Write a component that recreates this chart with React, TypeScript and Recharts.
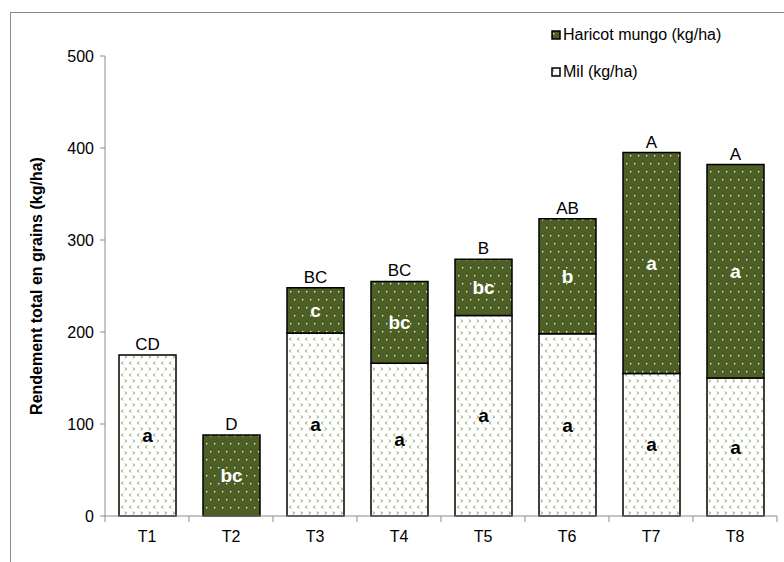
import React from "react";
import { BarChart, Bar, XAxis, YAxis, LabelList } from "recharts";

const treatments = ["T1", "T2", "T3", "T4", "T5", "T6", "T7", "T8"];
const milYield = [175, 0, 199, 166, 218, 198, 155, 150];
const haricotYield = [0, 88, 49, 89, 61, 125, 240, 232];
const groupLetters = ["CD", "D", "BC", "BC", "B", "AB", "A", "A"];
const milLetters = ["a", "", "a", "a", "a", "a", "a", "a"];
const haricotLetters = ["", "bc", "c", "bc", "bc", "b", "a", "a"];
const yTicks = [0, 100, 200, 300, 400, 500];

const data = treatments.map((t, i) => ({
  name: t,
  mil: milYield[i],
  haricot: haricotYield[i],
  total: milYield[i] + haricotYield[i],
  milLabel: milLetters[i],
  haricotLabel: haricotLetters[i],
  group: groupLetters[i],
}));

const FONT = "'Liberation Sans', Arial, sans-serif";
const GREEN = "#4e5f26";
const BAR_SIZE = 57;

function Patterns() {
  return (
    <svg width={0} height={0} style={{ position: "absolute" }}>
      <defs>
        <pattern id="milPat" width={8} height={12} patternUnits="userSpaceOnUse">
          <rect width={8} height={12} fill="#fff" />
          <path d="M3 1.5 L1.5 3 L3 4.5" stroke="#6f8c3f" strokeWidth={1} fill="none" />
          <path d="M5 7.5 L6.5 9 L5 10.5" stroke="#6f8c3f" strokeWidth={1} fill="none" />
        </pattern>
        <pattern id="haricotPat" width={8} height={16} patternUnits="userSpaceOnUse">
          <rect width={8} height={16} fill={GREEN} />
          <rect x={2} y={3} width={1.4} height={1.4} fill="#e8ecdc" />
          <rect x={6} y={11} width={1.4} height={1.4} fill="#e8ecdc" />
        </pattern>
      </defs>
    </svg>
  );
}

const STEP = (777 - 105) / treatments.length;

function XTick(props: any) {
  const { x, y, payload, index } = props;
  const left = x - STEP / 2;
  const right = x + STEP / 2;
  return (
    <g>
      <line x1={left} y1={y} x2={left} y2={y + 6} stroke="#8c8c8c" />
      {index === treatments.length - 1 && <line x1={right} y1={y} x2={right} y2={y + 6} stroke="#8c8c8c" />}
      <text x={x} y={y + 26} textAnchor="middle" style={{ fontSize: 16 }} fill="#000" fontFamily={FONT}>
        {payload.value}
      </text>
    </g>
  );
}

function LegendBox() {
  const items = [
    { label: "Haricot mungo (kg/ha)", fill: "url(#haricotPat)" },
    { label: "Mil (kg/ha)", fill: "url(#milPat)" },
  ];
  return (
    <div style={{ position: "absolute", left: 551, top: 16, fontFamily: FONT, fontSize: 16, color: "#000" }}>
      {items.map((it) => (
        <div key={it.label} style={{ display: "flex", alignItems: "center", height: 37 }}>
          <svg width={10} height={10} style={{ marginRight: 2 }}>
            <rect x={1} y={1} width={8} height={8} fill={it.fill} stroke="#000" strokeWidth={1.5} />
          </svg>
          <span>{it.label}</span>
        </div>
      ))}
    </div>
  );
}

export default function App() {
  return (
    <div style={{ position: "fixed", left: 0, top: 0, width: 784, height: 562, background: "#fff", fontFamily: FONT }}>
      <Patterns />
      <div style={{ position: "absolute", left: 10, top: 12, right: -2, bottom: -2, borderLeft: "1.5px solid #8c8c8c", borderTop: "1.5px solid #8c8c8c" }} />
      <BarChart width={784} height={562} data={data} margin={{ top: 56, right: 7, bottom: 16, left: 0 }} barSize={BAR_SIZE}>
        <XAxis
          dataKey="name"
          height={30}
          stroke="#8c8c8c"
          tickLine={false}
          tickSize={0}
          tickMargin={0}
          tick={<XTick />}
          interval={0}
        />
        <XAxis xAxisId="overlay" dataKey="name" hide />
        <YAxis
          width={105}
          domain={[0, 500]}
          ticks={yTicks}
          stroke="#8c8c8c"
          tickSize={5}
          tickMargin={6}
          tick={{ fill: "#000", fontSize: 16, fontFamily: FONT }}
          label={(p: any) => {
            const vb = p.viewBox || { x: 0, y: 56, height: 460 };
            const cx = vb.x + 36;
            const cy = vb.y + vb.height / 2;
            return (
              <text x={cx} y={cy} transform={`rotate(-90 ${cx} ${cy})`} textAnchor="middle" dominantBaseline="central" fontSize={16} fontWeight="bold" fill="#000" fontFamily={FONT}>
                Rendement total en grains (kg/ha)
              </text>
            );
          }}
        />
        <Bar dataKey="mil" stackId="s" fill="url(#milPat)" stroke="#000" strokeWidth={1.5} isAnimationActive={false}>
          <LabelList dataKey="milLabel" position="center" fill="#000" fontSize={19} fontWeight="bold" fontFamily={FONT} />
        </Bar>
        <Bar dataKey="haricot" stackId="s" fill="url(#haricotPat)" stroke="#000" strokeWidth={1.5} isAnimationActive={false}>
          <LabelList dataKey="haricotLabel" position="center" fill="#fff" fontSize={19} fontWeight="bold" fontFamily={FONT} />
        </Bar>
        <Bar dataKey="total" xAxisId="overlay" fill="none" stroke="none" isAnimationActive={false}>
          <LabelList dataKey="group" position="top" offset={5} fill="#000" fontSize={17} fontFamily={FONT} />
        </Bar>
      </BarChart>
      <LegendBox />
    </div>
  );
}
